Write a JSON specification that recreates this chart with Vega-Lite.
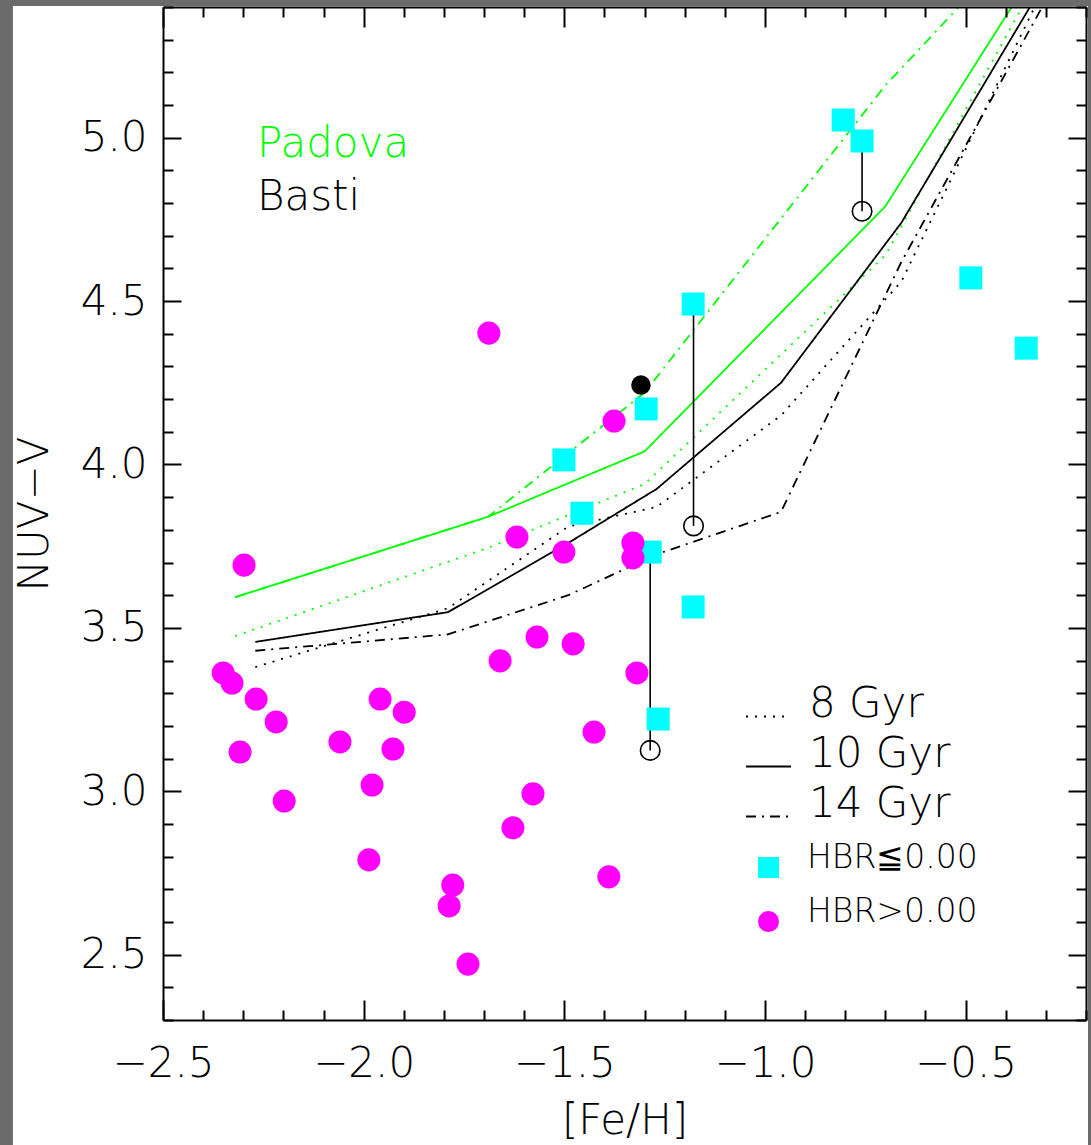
{
  "$schema": "https://vega.github.io/schema/vega-lite/v6.json",
  "width": 923,
  "height": 1013,
  "autosize": {"type": "none"},
  "padding": {"left": 163, "top": 7, "right": 5, "bottom": 125},
  "background": "#6b6b6b",
  "datasets": {
    "clusters": [
      {"feh": -0.805, "nuvv": 5.054, "hbr": "HBR≦0.00"},
      {"feh": -0.758, "nuvv": 4.990, "hbr": "HBR≦0.00"},
      {"feh": -1.179, "nuvv": 4.491, "hbr": "HBR≦0.00"},
      {"feh": -0.487, "nuvv": 4.571, "hbr": "HBR≦0.00"},
      {"feh": -0.349, "nuvv": 4.356, "hbr": "HBR≦0.00"},
      {"feh": -1.296, "nuvv": 4.170, "hbr": "HBR≦0.00"},
      {"feh": -1.501, "nuvv": 4.014, "hbr": "HBR≦0.00"},
      {"feh": -1.456, "nuvv": 3.851, "hbr": "HBR≦0.00"},
      {"feh": -1.286, "nuvv": 3.732, "hbr": "HBR≦0.00"},
      {"feh": -1.179, "nuvv": 3.564, "hbr": "HBR≦0.00"},
      {"feh": -1.266, "nuvv": 3.221, "hbr": "HBR≦0.00"},
      {"feh": -1.688, "nuvv": 4.402, "hbr": "HBR>0.00"},
      {"feh": -1.376, "nuvv": 4.133, "hbr": "HBR>0.00"},
      {"feh": -2.298, "nuvv": 3.692, "hbr": "HBR>0.00"},
      {"feh": -1.618, "nuvv": 3.778, "hbr": "HBR>0.00"},
      {"feh": -1.501, "nuvv": 3.732, "hbr": "HBR>0.00"},
      {"feh": -1.329, "nuvv": 3.760, "hbr": "HBR>0.00"},
      {"feh": -1.329, "nuvv": 3.714, "hbr": "HBR>0.00"},
      {"feh": -2.350, "nuvv": 3.362, "hbr": "HBR>0.00"},
      {"feh": -2.328, "nuvv": 3.331, "hbr": "HBR>0.00"},
      {"feh": -2.268, "nuvv": 3.282, "hbr": "HBR>0.00"},
      {"feh": -2.218, "nuvv": 3.212, "hbr": "HBR>0.00"},
      {"feh": -1.660, "nuvv": 3.399, "hbr": "HBR>0.00"},
      {"feh": -1.568, "nuvv": 3.472, "hbr": "HBR>0.00"},
      {"feh": -1.478, "nuvv": 3.451, "hbr": "HBR>0.00"},
      {"feh": -1.319, "nuvv": 3.362, "hbr": "HBR>0.00"},
      {"feh": -1.959, "nuvv": 3.282, "hbr": "HBR>0.00"},
      {"feh": -1.899, "nuvv": 3.242, "hbr": "HBR>0.00"},
      {"feh": -1.426, "nuvv": 3.181, "hbr": "HBR>0.00"},
      {"feh": -2.308, "nuvv": 3.120, "hbr": "HBR>0.00"},
      {"feh": -2.059, "nuvv": 3.151, "hbr": "HBR>0.00"},
      {"feh": -1.927, "nuvv": 3.129, "hbr": "HBR>0.00"},
      {"feh": -2.198, "nuvv": 2.970, "hbr": "HBR>0.00"},
      {"feh": -1.979, "nuvv": 3.019, "hbr": "HBR>0.00"},
      {"feh": -1.578, "nuvv": 2.992, "hbr": "HBR>0.00"},
      {"feh": -1.628, "nuvv": 2.888, "hbr": "HBR>0.00"},
      {"feh": -1.987, "nuvv": 2.790, "hbr": "HBR>0.00"},
      {"feh": -1.778, "nuvv": 2.713, "hbr": "HBR>0.00"},
      {"feh": -1.787, "nuvv": 2.649, "hbr": "HBR>0.00"},
      {"feh": -1.389, "nuvv": 2.738, "hbr": "HBR>0.00"},
      {"feh": -1.740, "nuvv": 2.471, "hbr": "HBR>0.00"}
    ],
    "corrected": [
      {"feh": -0.758, "nuvv": 4.990, "nuvv_corr": 4.775},
      {"feh": -1.178, "nuvv": 4.491, "nuvv_corr": 3.812},
      {"feh": -1.286, "nuvv": 3.732, "nuvv_corr": 3.125}
    ],
    "highlight": [
      {"feh": -1.309, "nuvv": 4.243}
    ],
    "models": [
      {"model": "Padova", "age": "10 Gyr", "feh": -2.32, "nuvv": 3.594},
      {"model": "Padova", "age": "10 Gyr", "feh": -1.69, "nuvv": 3.840},
      {"model": "Padova", "age": "10 Gyr", "feh": -1.30, "nuvv": 4.040},
      {"model": "Padova", "age": "10 Gyr", "feh": -0.70, "nuvv": 4.790},
      {"model": "Padova", "age": "10 Gyr", "feh": -0.38, "nuvv": 5.410},
      {"model": "Padova", "age": "14 Gyr", "feh": -2.32, "nuvv": 3.594},
      {"model": "Padova", "age": "14 Gyr", "feh": -1.69, "nuvv": 3.840},
      {"model": "Padova", "age": "14 Gyr", "feh": -1.30, "nuvv": 4.220},
      {"model": "Padova", "age": "14 Gyr", "feh": -0.70, "nuvv": 5.160},
      {"model": "Padova", "age": "14 Gyr", "feh": -0.38, "nuvv": 5.580},
      {"model": "Padova", "age": "8 Gyr", "feh": -2.32, "nuvv": 3.475},
      {"model": "Padova", "age": "8 Gyr", "feh": -1.69, "nuvv": 3.745},
      {"model": "Padova", "age": "8 Gyr", "feh": -1.30, "nuvv": 3.940},
      {"model": "Padova", "age": "8 Gyr", "feh": -0.70, "nuvv": 4.640},
      {"model": "Padova", "age": "8 Gyr", "feh": -0.35, "nuvv": 5.420},
      {"model": "Basti", "age": "10 Gyr", "feh": -2.27, "nuvv": 3.457},
      {"model": "Basti", "age": "10 Gyr", "feh": -1.79, "nuvv": 3.548},
      {"model": "Basti", "age": "10 Gyr", "feh": -1.49, "nuvv": 3.760},
      {"model": "Basti", "age": "10 Gyr", "feh": -1.27, "nuvv": 3.925},
      {"model": "Basti", "age": "10 Gyr", "feh": -0.96, "nuvv": 4.250},
      {"model": "Basti", "age": "10 Gyr", "feh": -0.66, "nuvv": 4.740},
      {"model": "Basti", "age": "10 Gyr", "feh": -0.33, "nuvv": 5.420},
      {"model": "Basti", "age": "8 Gyr", "feh": -2.27, "nuvv": 3.380},
      {"model": "Basti", "age": "8 Gyr", "feh": -1.79, "nuvv": 3.560},
      {"model": "Basti", "age": "8 Gyr", "feh": -1.49, "nuvv": 3.810},
      {"model": "Basti", "age": "8 Gyr", "feh": -1.27, "nuvv": 3.870},
      {"model": "Basti", "age": "8 Gyr", "feh": -0.96, "nuvv": 4.150},
      {"model": "Basti", "age": "8 Gyr", "feh": -0.66, "nuvv": 4.560},
      {"model": "Basti", "age": "8 Gyr", "feh": -0.32, "nuvv": 5.420},
      {"model": "Basti", "age": "14 Gyr", "feh": -2.27, "nuvv": 3.430},
      {"model": "Basti", "age": "14 Gyr", "feh": -1.79, "nuvv": 3.480},
      {"model": "Basti", "age": "14 Gyr", "feh": -1.49, "nuvv": 3.600},
      {"model": "Basti", "age": "14 Gyr", "feh": -1.27, "nuvv": 3.725},
      {"model": "Basti", "age": "14 Gyr", "feh": -0.96, "nuvv": 3.855},
      {"model": "Basti", "age": "14 Gyr", "feh": -0.66, "nuvv": 4.620},
      {"model": "Basti", "age": "14 Gyr", "feh": -0.30, "nuvv": 5.420}
    ]
  },
  "layer": [
    {
      "data": {"values": [{}]},
      "mark": {"type": "rect", "fill": "white", "clip": false},
      "encoding": {
        "x": {"datum": -2.874, "type": "quantitative", "scale": {"domain": [-2.5, -0.2], "nice": false, "zero": false}, "axis": null},
        "x2": {"datum": -0.195},
        "y": {"datum": 5.403, "type": "quantitative", "scale": {"domain": [2.3, 5.4], "nice": false, "zero": false}, "axis": null},
        "y2": {"datum": 1.9}
      }
    },
    {
      "data": {"name": "models"},
      "mark": {"type": "line", "clip": true, "strokeWidth": 1.8},
      "encoding": {
        "x": {
          "field": "feh", "type": "quantitative",
          "scale": {"domain": [-2.5, -0.2], "nice": false, "zero": false},
          "axis": {
            "orient": "top", "title": null, "labels": false, "zindex": 1,
            "values": [-2.5, -2.4, -2.3, -2.2, -2.1, -2.0, -1.9, -1.8, -1.7, -1.6, -1.5, -1.4, -1.3, -1.2, -1.1, -1.0, -0.9, -0.8, -0.7, -0.6, -0.5, -0.4, -0.3, -0.2],
            "tickSize": {"condition": {"test": "abs(datum.value*2 - round(datum.value*2)) < 0.001", "value": -20}, "value": -10}
          }
        },
        "y": {
          "field": "nuvv", "type": "quantitative",
          "scale": {"domain": [2.3, 5.4], "nice": false, "zero": false},
          "axis": {
            "orient": "right", "title": null, "labels": false, "zindex": 1,
            "values": [2.3, 2.4, 2.5, 2.6, 2.7, 2.8, 2.9, 3.0, 3.1, 3.2, 3.3, 3.4, 3.5, 3.6, 3.7, 3.8, 3.9, 4.0, 4.1, 4.2, 4.3, 4.4, 4.5, 4.6, 4.7, 4.8, 4.9, 5.0, 5.1, 5.2, 5.3, 5.4],
            "tickSize": {"condition": {"test": "abs(datum.value*2 - round(datum.value*2)) < 0.001", "value": -18}, "value": -10}
          }
        },
        "stroke": {
          "field": "model", "type": "nominal",
          "scale": {"domain": ["Padova", "Basti"], "range": ["#00ff00", "#000000"]},
          "legend": {
            "orient": "none", "legendX": 52, "legendY": 129, "title": null,
            "symbolOpacity": 0, "symbolSize": 1, "labelOffset": 0,
            "labelFontSize": 42, "labelBaseline": "alphabetic", "rowPadding": 11,
            "encode": {"labels": {"update": {"fill": {"signal": "datum.value === 'Padova' ? '#00ff00' : '#000000'"}}}}
          }
        },
        "strokeDash": {
          "field": "age", "type": "nominal",
          "scale": {"domain": ["8 Gyr", "10 Gyr", "14 Gyr"], "range": [[2, 7], [1, 0], [10, 6, 2, 6]]},
          "legend": {
            "orient": "none", "legendX": 582, "legendY": 686, "title": null,
            "symbolType": "stroke", "symbolSize": 2025, "symbolStrokeColor": "black", "symbolStrokeWidth": 2,
            "labelOffset": 17, "labelFontSize": 42, "labelBaseline": "alphabetic", "rowPadding": 7
          }
        }
      }
    },
    {
      "data": {"name": "corrected"},
      "mark": {"type": "rule", "color": "black", "strokeWidth": 1.6},
      "encoding": {
        "x": {"field": "feh", "type": "quantitative", "scale": {"domain": [-2.5, -0.2], "nice": false, "zero": false}, "axis": null},
        "y": {"field": "nuvv", "type": "quantitative", "scale": {"domain": [2.3, 5.4], "nice": false, "zero": false}, "axis": null},
        "y2": {"field": "nuvv_corr"}
      }
    },
    {
      "data": {"name": "clusters"},
      "mark": {"type": "point", "filled": true, "size": 530, "opacity": 1, "strokeWidth": 0},
      "encoding": {
        "x": {
          "field": "feh", "type": "quantitative",
          "scale": {"domain": [-2.5, -0.2], "nice": false, "zero": false},
          "axis": {
            "orient": "bottom", "title": "[Fe/H]", "zindex": 1,
            "values": [-2.5, -2.4, -2.3, -2.2, -2.1, -2.0, -1.9, -1.8, -1.7, -1.6, -1.5, -1.4, -1.3, -1.2, -1.1, -1.0, -0.9, -0.8, -0.7, -0.6, -0.5, -0.4, -0.3, -0.2],
            "tickSize": {"condition": {"test": "abs(datum.value*2 - round(datum.value*2)) < 0.001", "value": -20}, "value": -10},
            "labelExpr": "abs(datum.value*2 - round(datum.value*2)) < 0.001 ? format(datum.value, '.1f') : ''",
            "labelPadding": 43, "titlePadding": 6
          }
        },
        "y": {
          "field": "nuvv", "type": "quantitative",
          "scale": {"domain": [2.3, 5.4], "nice": false, "zero": false},
          "axis": {
            "orient": "left", "title": "NUV−V", "zindex": 1,
            "values": [2.3, 2.4, 2.5, 2.6, 2.7, 2.8, 2.9, 3.0, 3.1, 3.2, 3.3, 3.4, 3.5, 3.6, 3.7, 3.8, 3.9, 4.0, 4.1, 4.2, 4.3, 4.4, 4.5, 4.6, 4.7, 4.8, 4.9, 5.0, 5.1, 5.2, 5.3, 5.4],
            "tickSize": {"condition": {"test": "abs(datum.value*2 - round(datum.value*2)) < 0.001", "value": -18}, "value": -10},
            "labelExpr": "abs(datum.value*2 - round(datum.value*2)) < 0.001 ? format(datum.value, '.1f') : ''",
            "labelPadding": 34, "titlePadding": 24
          }
        },
        "fill": {
          "field": "hbr", "type": "nominal",
          "scale": {"domain": ["HBR≦0.00", "HBR>0.00"], "range": ["#00ffff", "#ff00ff"]},
          "legend": {
            "orient": "none", "legendX": 589, "legendY": 844, "title": null,
            "symbolSize": 441, "symbolStrokeWidth": 0, "labelOffset": 22,
            "labelFontSize": 33, "labelBaseline": "alphabetic", "rowPadding": 17
          }
        },
        "shape": {
          "field": "hbr", "type": "nominal",
          "scale": {"domain": ["HBR≦0.00", "HBR>0.00"], "range": ["square", "circle"]},
          "legend": {
            "orient": "none", "legendX": 589, "legendY": 844, "title": null,
            "symbolSize": 441, "symbolStrokeWidth": 0, "labelOffset": 22,
            "labelFontSize": 33, "labelBaseline": "alphabetic", "rowPadding": 17
          }
        }
      }
    },
    {
      "data": {"name": "corrected"},
      "mark": {"type": "point", "shape": "circle", "filled": false, "size": 380, "stroke": "black", "strokeWidth": 1.6, "opacity": 1},
      "encoding": {
        "x": {"field": "feh", "type": "quantitative", "scale": {"domain": [-2.5, -0.2], "nice": false, "zero": false}, "axis": null},
        "y": {"field": "nuvv_corr", "type": "quantitative", "scale": {"domain": [2.3, 5.4], "nice": false, "zero": false}, "axis": null}
      }
    },
    {
      "data": {"name": "highlight"},
      "mark": {"type": "point", "shape": "circle", "filled": true, "size": 380, "color": "black", "opacity": 1},
      "encoding": {
        "x": {"field": "feh", "type": "quantitative", "scale": {"domain": [-2.5, -0.2], "nice": false, "zero": false}, "axis": null},
        "y": {"field": "nuvv", "type": "quantitative", "scale": {"domain": [2.3, 5.4], "nice": false, "zero": false}, "axis": null}
      }
    }
  ],
  "resolve": {"axis": {"x": "independent", "y": "independent"}},
  "config": {
    "view": {"stroke": null},
    "font": "DejaVu Sans",
    "axis": {
      "domainColor": "black", "domainWidth": 2, "tickColor": "black", "tickWidth": 2,
      "labelFont": "DejaVu Sans", "labelFontSize": 42, "labelColor": "black", "labelFontWeight": 200,
      "titleFont": "DejaVu Sans", "titleFontSize": 42, "titleFontWeight": 200, "titleColor": "black",
      "grid": false, "labelFlush": false, "labelOverlap": false
    },
    "legend": {
      "labelFont": "DejaVu Sans", "labelFontWeight": 200, "labelColor": "black", "padding": 0, "zindex": 1, "labelLimit": 400
    }
  }
}
